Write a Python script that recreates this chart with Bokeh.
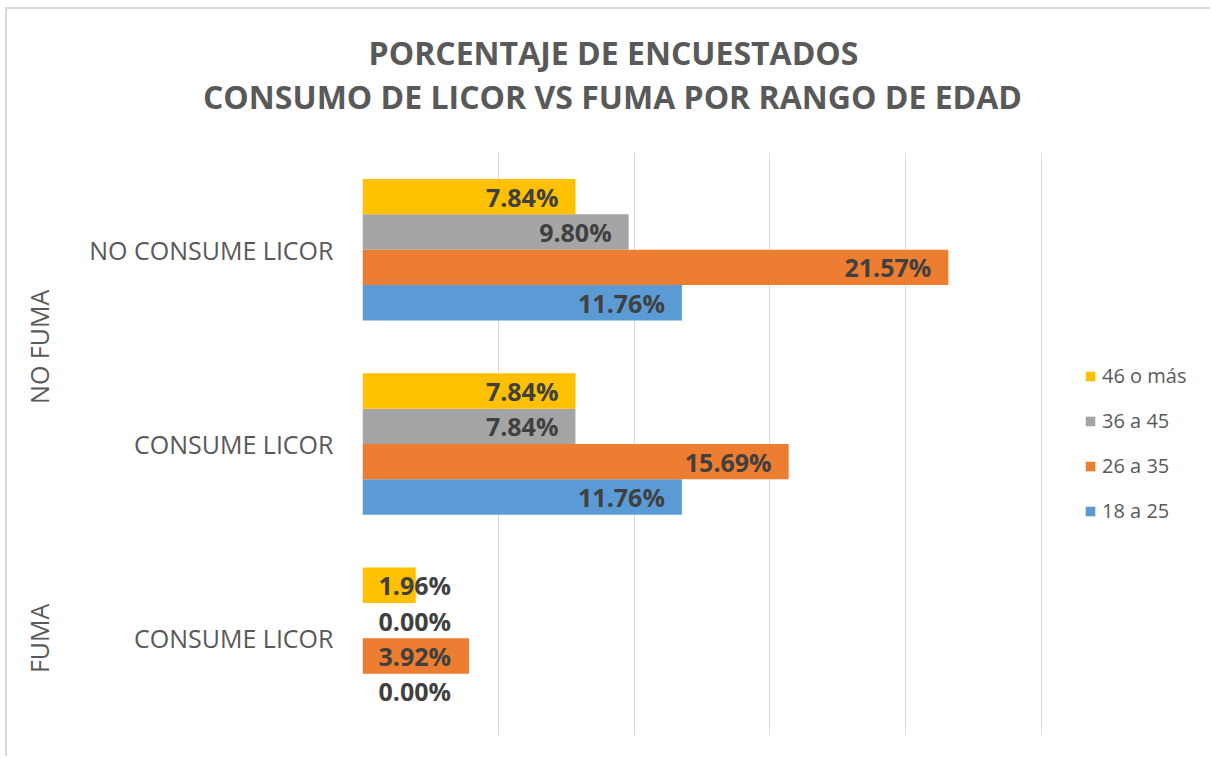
import math
from bokeh.plotting import figure
from bokeh.models import (FactorRange, Legend, LegendItem, ColumnDataSource, FixedTicker,
                          CategoricalAxis)
from bokeh.transform import dodge
from bokeh.core.properties import value
from bokeh.embed import file_html
from bokeh.resources import INLINE

# ---- data ----
groups = ["NO FUMA", "NO FUMA", "FUMA"]
subcats = ["NO CONSUME LICOR", "CONSUME LICOR", "CONSUME LICOR"]
series = ["18 a 25", "26 a 35", "36 a 45", "46 o más"]
colors = ["#5B9BD5", "#ED7D31", "#A5A5A5", "#FFC000"]
v_18_25 = [11.76, 11.76, 0.00]
v_26_35 = [21.57, 15.69, 3.92]
v_36_45 = [9.80, 7.84, 0.00]
v_46_mas = [7.84, 7.84, 1.96]
x_ticks = [0, 5, 10, 15, 20, 25]
title_lines = ["PORCENTAJE DE ENCUESTADOS", "CONSUMO DE LICOR VS FUMA POR RANGO DE EDAD"]

values = [v_18_25, v_26_35, v_36_45, v_46_mas]
factors = list(zip(groups, subcats))

TXT = "#595959"
FONT = "Open Sans"
EDGE = "#D9D9D9"

W, H = 1210, 756
TOP_H = 152                 # title strip
ML = 362                    # left border of the plot area
GRID_W = 679                # pixels spanned by 0..25
FH = 583                    # plot area height
MB = H - TOP_H - FH
FW = W - ML
XMAX = x_ticks[-1]
ppu = GRID_W / XMAX
x_end = FW / ppu

# ---------- title strip ----------
pt = figure(width=W, height=TOP_H, x_range=(0, W), y_range=(0, TOP_H),
            x_axis_location=None, y_axis_location=None, min_border=0,
            output_backend="svg", toolbar_location=None,
            styles={"box-shadow": f"inset 5px 7px 0 0 #ffffff, inset 7px 9px 0 0 {EDGE}"})
pt.outline_line_color = None
pt.border_fill_alpha = 0
pt.background_fill_alpha = 0
pt.grid.visible = False
pt.text(x=[613, 612], y=[TOP_H - 52, TOP_H - 96], text=title_lines,
        text_align="center", text_baseline="middle", text_font=value(FONT),
        text_font_style="bold", text_font_size="32px", text_color=TXT)

# ---------- main chart ----------
rev_factors = list(reversed(factors))
y_range = FactorRange(*rev_factors, group_padding=0, factor_padding=0, range_padding=0)

p = figure(width=W, height=H - TOP_H, y_range=y_range, x_range=(0, x_end),
           output_backend="svg", toolbar_location=None,
           min_border_left=ML, min_border_right=0, min_border_top=0, min_border_bottom=MB,
           styles={"box-shadow": f"inset 5px 0 0 0 #ffffff, inset 7px 0 0 0 {EDGE}"})
p.outline_line_color = None
p.border_fill_alpha = 0
p.xaxis.visible = False
p.xgrid.ticker = FixedTicker(ticks=x_ticks)
p.xgrid.grid_line_color = "#D9D9D9"
p.xgrid.grid_line_width = 1
p.ygrid.visible = False

ax = p.yaxis[0]
ax.axis_line_color = None
ax.major_tick_line_color = None
ax.major_tick_out = 0
ax.major_tick_in = 0
ax.minor_tick_line_color = None
ax.major_label_standoff = 29
ax.major_label_text_font = FONT
ax.major_label_text_font_size = "25px"
ax.major_label_text_color = TXT
ax.group_text_alpha = 0
ax.group_text_font_size = "1px"
ax.separator_line_color = None

# second axis carrying only the outer (group) labels
ax2 = CategoricalAxis()
ax2.axis_line_color = None
ax2.major_tick_line_color = None
ax2.major_tick_out = 0
ax2.major_tick_in = 0
ax2.minor_tick_line_color = None
ax2.major_label_text_alpha = 0
ax2.major_label_text_font_size = "1px"
ax2.major_label_standoff = 30
ax2.group_text_font = FONT
ax2.group_text_font_size = "25px"
ax2.group_text_color = TXT
ax2.group_text_font_style = "normal"
ax2.separator_line_color = None
p.add_layout(ax2, "left")

bar_h = 0.182
pad_units = 17 / ppu
label_w_units = 76 / ppu
min_left = 16 / ppu

renderers = []
for i, (name, vals, col) in enumerate(zip(series, values, colors)):
    off = (i - 1.5) * bar_h
    lx, al = [], []
    for v in vals:
        if v - pad_units - label_w_units < min_left:
            lx.append(min_left); al.append("left")
        else:
            lx.append(v - pad_units); al.append("right")
    src = ColumnDataSource(dict(cat=factors, val=vals,
                                lab=[f"{v:.2f}%" for v in vals], lx=lx, al=al))
    r = p.hbar(y=dodge("cat", off, range=p.y_range), right="val", left=0, height=bar_h,
               fill_color=col, line_color=None, source=src)
    renderers.append(r)
    p.text(x="lx", y=dodge("cat", off, range=p.y_range), text="lab", text_align="al",
           text_baseline="middle", text_font=value(FONT), text_font_style="bold",
           text_font_size="25px", text_color="#404040", source=src)

legend = Legend(items=[LegendItem(label=s, renderers=[r]) for s, r in
                       reversed(list(zip(series, renderers)))],
                location=(1084 - ML, 211), orientation="vertical")
legend.border_line_color = None
legend.background_fill_alpha = 0
legend.margin = 0
legend.padding = 0
legend.glyph_width = 12
legend.glyph_height = 12
legend.label_standoff = 6
legend.label_height = 25
legend.spacing = 18
legend.label_text_font = FONT
legend.label_text_font_size = "20px"
legend.label_text_color = TXT
p.add_layout(legend)

open("out.html", "w").write(file_html([pt, p], INLINE))
